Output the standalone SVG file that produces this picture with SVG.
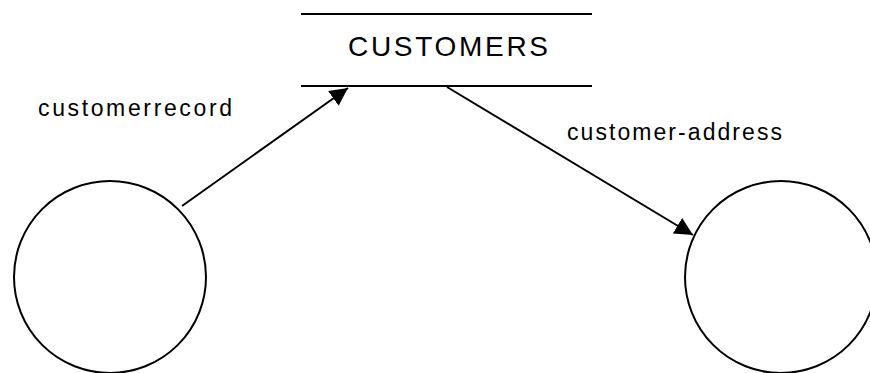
<svg xmlns="http://www.w3.org/2000/svg" width="870" height="373" viewBox="0 0 870 373">
<style>
.ln{stroke:#000;stroke-width:2;fill:none}
.node{stroke:#000;stroke-width:2;fill:#fff}
.lbl{font-family:"Liberation Sans",Arial,sans-serif;font-size:23px;fill:#000}
.ttl{font-family:"Liberation Sans",Arial,sans-serif;font-size:28px;fill:#000}
</style>
<defs>
<marker id="ah" viewBox="0 0 10 10" refX="10" refY="5" markerWidth="18" markerHeight="18" markerUnits="userSpaceOnUse" orient="auto">
<path d="M0,0 L10,5 L0,10 z" fill="#000"/>
</marker>
</defs>
<g id="customers">
<line class="ln" x1="301" y1="14" x2="592" y2="14"/>
<line class="ln" x1="301" y1="86" x2="592" y2="86"/>
<text class="ttl" x="448" y="56" text-anchor="middle" textLength="200" lengthAdjust="spacing">CUSTOMERS</text>
</g>
<g id="process-left">
<circle class="node" cx="110" cy="277" r="96"/>
</g>
<g id="process-right">
<circle class="node" cx="781" cy="277" r="96"/>
</g>
<g id="connectors">
<line class="ln" x1="182" y1="206" x2="348" y2="88" marker-end="url(#ah)"/>
<line class="ln" x1="447" y1="87" x2="693" y2="235" marker-end="url(#ah)"/>
</g>
<g id="labels">
<text class="lbl" x="38" y="116" textLength="194" lengthAdjust="spacing">customerrecord</text>
<text class="lbl" x="567" y="140" textLength="215" lengthAdjust="spacing">customer-address</text>
</g>
</svg>
